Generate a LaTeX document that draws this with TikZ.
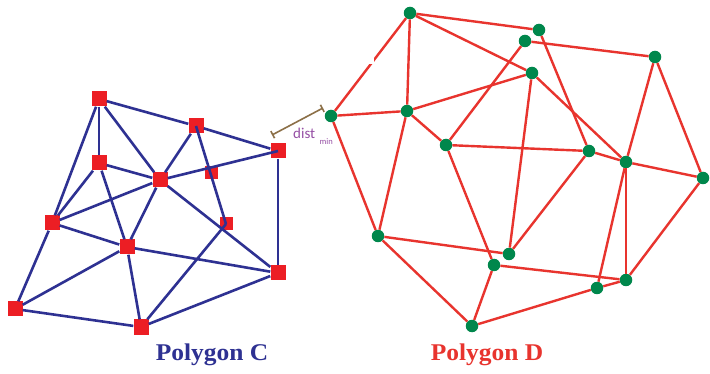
\documentclass[tikz,border=0pt]{standalone}
\usepackage{fontspec}
\setmainfont{Liberation Serif}
\newfontfamily\distfont{Carlito}
\usetikzlibrary{arrows.meta}
\definecolor{cblue}{RGB}{46,49,146}
\definecolor{sqred}{RGB}{236,30,36}
\definecolor{dred}{RGB}{232,52,46}
\definecolor{dgreen}{RGB}{0,135,76}
\definecolor{distbrown}{RGB}{140,112,72}
\definecolor{distpurple}{RGB}{150,80,165}
\tikzset{
  csq/.style={rectangle, fill=sqred, minimum size=15pt, inner sep=0pt},
  csqs/.style={csq, minimum size=13pt},
  ddot/.style={circle, fill=dgreen, minimum size=12.5pt, inner sep=0pt},
  cedge/.style={draw=cblue, line width=2.6pt},
  dedge/.style={draw=dred, line width=2.4pt},
  plabel/.style={font=\bfseries\fontsize{24}{28}\selectfont, anchor=base}
}
\begin{document}
\begin{tikzpicture}[x=1pt,y=-1pt]
\useasboundingbox[fill=white] (0,0) rectangle (710,374);

% ---- Polygon C: red squares ----
\node[csq]  (c1)  at (99,99)   {};
\node[csq]  (c2)  at (196,126) {};
\node[csq]  (c3)  at (278,151) {};
\node[csq]  (c4)  at (99,163)  {};
\node[csq]  (c5)  at (160,180) {};
\node[csqs] (c6)  at (211,173) {};
\node[csq]  (c7)  at (52,223)  {};
\node[csqs] (c8)  at (226,224) {};
\node[csq]  (c9)  at (127,247) {};
\node[csq]  (c10) at (278,273) {};
\node[csq]  (c11) at (15,309)  {};
\node[csq]  (c12) at (141,327) {};

% ---- Polygon C: blue edges ----
\foreach \a/\b in {c1/c2, c2/c3, c1/c4, c1/c5, c1/c7, c2/c5, c4/c5, c4/c7,
                   c4/c9, c5/c7, c5/c9, c7/c9, c7/c11, c9/c10, c9/c11,
                   c9/c12, c11/c12, c12/c10, c3/c10}
  \draw[cedge] (\a) -- (\b);
\draw[cedge] (c2.center) -- (c8.center);
\draw[cedge] (c5) -- (c3.center);
\draw[cedge] (c5) -- (c10);
\draw[cedge] (c12) -- (c8.center);

% ---- Polygon D: green dots ----
\node[ddot] (d1)  at (410,13)  {};
\node[ddot] (d2)  at (539,30)  {};
\node[ddot] (d3)  at (525,41)  {};
\node[ddot] (d4)  at (655,57)  {};
\node[ddot] (d5)  at (532,73)  {};
\node[ddot] (d6)  at (331,116) {};
\node[ddot] (d7)  at (407,111) {};
\node[ddot] (d8)  at (446,145) {};
\node[ddot] (d9)  at (589,151) {};
\node[ddot] (d10) at (626,162) {};
\node[ddot] (d11) at (703,178) {};
\node[ddot] (d12) at (378,236) {};
\node[ddot] (d13) at (509,254) {};
\node[ddot] (d14) at (494,265) {};
\node[ddot] (d15) at (626,280) {};
\node[ddot] (d16) at (597,288) {};
\node[ddot] (d17) at (472,326) {};

% ---- Polygon D: red edges ----
\foreach \a/\b in {d1/d2, d1/d7, d1/d6, d1/d5, d5/d10, d3/d4, d3/d8, d2/d9,
                   d4/d10, d4/d11, d6/d7, d6/d12, d7/d5, d7/d8, d7/d12,
                   d8/d9, d8/d14, d5/d13, d9/d10, d10/d11, d9/d13, d12/d13,
                   d12/d17, d14/d17, d14/d15, d10/d16, d10/d15, d11/d15,
                   d16/d15, d17/d16}
  \draw[dedge] (\a) -- (\b);

% white patch over the top-left corner
\fill[white] (300,0) rectangle (374,64);

% ---- minimum distance marker ----
\coordinate (m1) at (272,135);
\coordinate (m2) at (323,108);
\draw[distbrown, line width=1.6pt, {Bar[width=8pt]}-{Bar[width=8pt]}] (m1) -- (m2);
\node[distpurple, anchor=base west, inner sep=0pt, font=\distfont\fontsize{15}{18}\selectfont] (dl) at (293,139) {dist};
\node[distpurple, anchor=base west, inner sep=0pt, font=\distfont\fontsize{8.5}{10}\selectfont] (ds) at (dl.base east) [xshift=4pt, yshift=-6pt] {min};

% ---- captions ----
\node[plabel, text=cblue] (lc) at (212,360) {\scalebox{1.06}[1]{Polygon C}};
\node[plabel, text=dred]  (ld) at (487,360) {\scalebox{1.06}[1]{Polygon D}};
\end{tikzpicture}
\end{document}
